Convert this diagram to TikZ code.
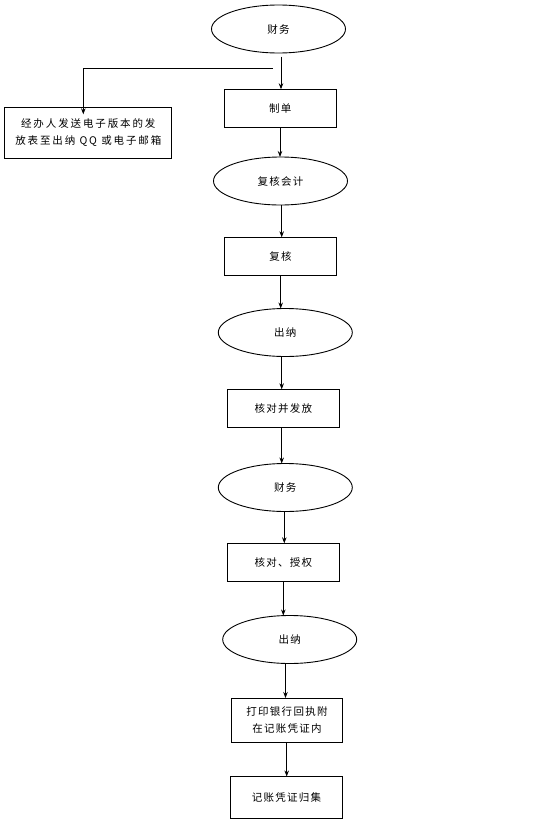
\documentclass[tikz,border=0pt]{standalone}
\usepackage{fontspec}
\newfontfamily\cjk[LetterSpace=12]{Noto Sans CJK SC}
\newfontfamily\cjkwide[LetterSpace=18]{Noto Sans CJK SC}
\usetikzlibrary{arrows.meta,shapes.geometric}
\begin{document}
\begin{tikzpicture}[x=1pt,y=-1pt,
  every node/.style={inner sep=0pt,outer sep=0pt,font=\cjk\fontsize{10.5}{17}\selectfont},
  oval/.style={draw,ellipse,line width=0.9pt,minimum width=134pt,minimum height=48pt},
  boxnode/.style={draw,rectangle,line width=0.9pt,minimum width=112pt,minimum height=38pt},
  conn/.style={line width=0.8pt,-{Stealth[length=6pt,width=4.5pt]}},
  plain/.style={line width=0.8pt}]
\useasboundingbox (0,0) rectangle (559,825);
\node[oval] (f1) at (278.5,29) {财务};
\node[boxnode] (zd) at (280.3,108.3) {制单};
\node[draw,rectangle,line width=0.9pt,minimum width=167pt,minimum height=51pt,align=center,font=\cjkwide\fontsize{10.5}{17}\selectfont] (lb) at (88.3,132.8) {经办人发送电子版本的发\\放表至出纳 QQ 或电子邮箱};
\node[oval] (fhkj) at (280.5,181) {复核会计};
\node[boxnode] (fh) at (280.5,256.3) {复核};
\node[oval] (cn1) at (285.3,332.5) {出纳};
\node[boxnode] (hd) at (283.3,408.3) {核对并发放};
\node[oval] (f2) at (285.3,487.5) {财务};
\node[boxnode] (hs) at (283.3,562.3) {核对、授权};
\node[oval] (cn2) at (289.7,639.5) {出纳};
\node[boxnode,minimum width=111pt,minimum height=44pt,align=center] (dy) at (287,720) {打印银行回执附\\在记账凭证内};
\node[boxnode,minimum width=112pt,minimum height=42pt] (gj) at (286.5,797.5) {记账凭证归集};
\coordinate (sp) at (272.7,68.3);
\coordinate (lc) at (83.3,68.3);
% connectors
\draw[conn] ([yshift=-3.5pt]f1.south -| 281,0) -- (281,0 |- zd.north);
\draw[plain] (sp) -- (lc);
\draw[conn] (lc) -- ([yshift=-7pt]lc |- lb.north);
\draw[conn] (zd.south -| 280,0) -- (280,0 |- fhkj.north);
\draw[conn] (fhkj.south -| 281.7,0) -- (281.7,0 |- fh.north);
\draw[conn] (fh.south -| 280.7,0) -- (280.7,0 |- cn1.north);
\draw[conn] (cn1.south -| 281.7,0) -- (281.7,0 |- hd.north);
\draw[conn] (hd.south -| 281.7,0) -- (281.7,0 |- f2.north);
\draw[conn] (f2.south -| 284.3,0) -- (284.3,0 |- hs.north);
\draw[conn] (hs.south -| 283.3,0) -- (283.3,0 |- cn2.north);
\draw[conn] (cn2.south -| 285.5,0) -- (285.5,0 |- dy.north);
\draw[conn] (dy.south -| 286.7,0) -- (286.7,0 |- gj.north);
\end{tikzpicture}
\end{document}
